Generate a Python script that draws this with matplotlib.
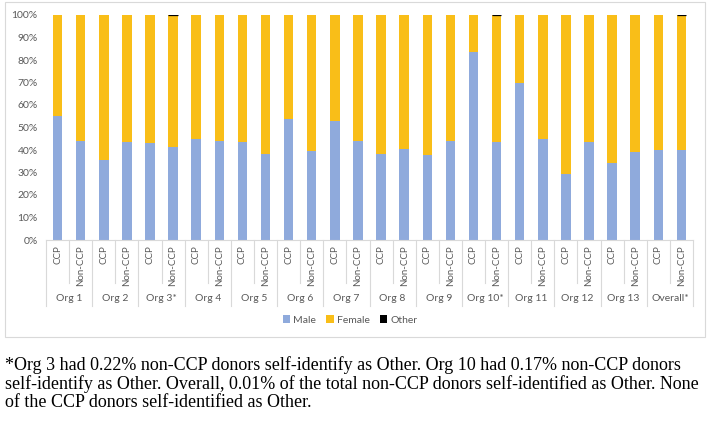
"""Male/female/other donor share by organisation, CCP vs non-CCP."""

import matplotlib
matplotlib.use("Agg")
import matplotlib.pyplot as plt
import matplotlib.transforms as mtransforms
from matplotlib.patches import Rectangle
import numpy as np

ORGS = ["Org 1", "Org 2", "Org 3*", "Org 4", "Org 5", "Org 6", "Org 7",
        "Org 8", "Org 9", "Org 10*", "Org 11", "Org 12", "Org 13", "Overall*"]
GROUPS = ["CCP", "Non-CCP"]

# percent male, pairs are (CCP, Non-CCP) per org
MALE_CCP = [55.3, 35.7, 43.0, 45.0, 43.4, 53.6, 52.7, 38.2, 37.6, 83.4, 69.9, 29.5, 34.4, 40.1]
MALE_NON = [44.1, 43.4, 41.2, 44.1, 38.4, 39.4, 44.1, 40.6, 44.1, 43.4, 45.0, 43.4, 39.3, 40.1]
OTHER_CCP = [0, 0, 0, 0, 0, 0, 0, 0, 0, 0, 0, 0, 0, 0]
OTHER_NON = [0, 0, 0.22, 0, 0, 0, 0, 0, 0, 0.17, 0, 0, 0, 0.01]

MALE_COLOR = "#8FAADC"
FEMALE_COLOR = "#F9BE18"
OTHER_COLOR = "#000000"
TEXT_COLOR = "#595959"
LINE_COLOR = "#D9D9D9"
FONT = ["Lato", "DejaVu Sans"]

FOOTNOTE = ("*Org 3 had 0.22% non-CCP donors self-identify as Other. Org 10 had 0.17% non-CCP donors\n"
            "self-identify as Other. Overall, 0.01% of the total non-CCP donors self-identified as Other. None\n"
            "of the CCP donors self-identified as Other.")

W, H = 709, 424

male = np.ravel(np.column_stack([MALE_CCP, MALE_NON]))
other = np.ravel(np.column_stack([OTHER_CCP, OTHER_NON]))
female = 100 - male - other
labels = GROUPS * len(ORGS)
x = np.arange(len(male))

fig = plt.figure(figsize=(W / 100, H / 100), dpi=100)
fig.patches.append(Rectangle((5 / W, 1 - 337 / H), 700 / W, 335 / H, transform=fig.transFigure,
                             fill=False, edgecolor=LINE_COLOR, linewidth=0.8))

ax = fig.add_axes([46 / W, 1 - 240 / H, 647 / W, 225 / H])
ax.bar(x, male, width=0.41, color=MALE_COLOR, label="Male")
ax.bar(x, female, width=0.41, bottom=male, color=FEMALE_COLOR, label="Female")
# tiny "Other" shares get an outline so they stay visible
ax.bar(x, other, width=0.41, bottom=male + female, color=OTHER_COLOR, edgecolor=OTHER_COLOR,
       linewidth=[0.9 if o > 0 else 0 for o in other], label="Other")

ax.set_xlim(-0.5, len(x) - 0.5)
ax.set_ylim(0, 100)
ax.set_yticks(np.arange(0, 101, 10))
ax.set_yticklabels([f"{v}%" for v in range(0, 101, 10)], fontsize=7.5, color=TEXT_COLOR, family=FONT)
ax.set_xticks([])
ax.tick_params(axis="y", length=0, pad=6)
for side in ("top", "right", "left"):
    ax.spines[side].set_visible(False)
ax.spines["bottom"].set_color(LINE_COLOR)
ax.spines["bottom"].set_linewidth(0.8)

# two-level category axis drawn below the plot
trans = mtransforms.blended_transform_factory(ax.transData, ax.transAxes)
for i, lab in enumerate(labels):
    ax.text(i, -0.022, lab, transform=trans, rotation=90, ha="center", va="top",
            fontsize=7, color=TEXT_COLOR, family=FONT)
    if i % 2 == 1:
        ax.plot([i - 0.5, i - 0.5], [0, -0.19], transform=trans, color=LINE_COLOR,
                linewidth=0.8, clip_on=False)
for g in range(len(ORGS) + 1):
    ax.plot([2 * g - 0.5, 2 * g - 0.5], [0, -0.293], transform=trans, color=LINE_COLOR,
            linewidth=0.8, clip_on=False)
for g, org in enumerate(ORGS):
    ax.text(2 * g + 0.5, -0.258, org, transform=trans, ha="center", va="center",
            fontsize=7.5, color=TEXT_COLOR, family=FONT)

fig.legend(loc="center", bbox_to_anchor=(350 / W, 1 - 320 / H), ncol=3, frameon=False,
           prop={"family": FONT, "size": 7.5}, labelcolor=TEXT_COLOR,
           handlelength=0.7, handleheight=0.7, handletextpad=0.3, columnspacing=1.0)

fig.text(5 / W, 1 - 356 / H, FOOTNOTE, ha="left", va="top", fontsize=13,
         family="Liberation Serif", color="black", linespacing=1.08)

fig.savefig("out.png", dpi=100)
